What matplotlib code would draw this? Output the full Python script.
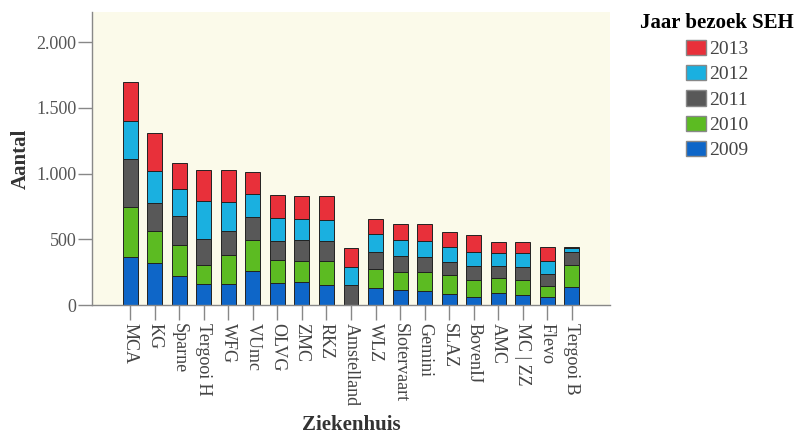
import matplotlib
matplotlib.use("Agg")
import matplotlib.pyplot as plt
import numpy as np
from matplotlib.patches import Patch

categories = ["MCA", "KG", "Sparne", "Tergooi H", "WFG", "VUmc", "OLVG", "ZMC", "RKZ",
              "Amstelland", "WLZ", "Slotervaart", "Gemini", "SLAZ", "BovenIJ", "AMC",
              "MC | ZZ", "Flevo", "Tergooi B"]

y2009 = [365, 320, 223, 162, 157, 259, 165, 173, 152, 0, 127, 114, 109, 84, 63, 89, 76, 63, 135]
y2010 = [379, 246, 231, 143, 221, 238, 180, 159, 183, 0, 145, 140, 145, 147, 127, 117, 112, 82, 170]
y2011 = [370, 211, 224, 195, 188, 171, 145, 165, 152, 152, 129, 119, 109, 94, 107, 91, 99, 94, 101]
y2012 = [289, 246, 203, 289, 218, 175, 170, 160, 160, 135, 140, 122, 127, 114, 109, 96, 106, 96, 27]
y2013 = [295, 287, 198, 239, 244, 167, 178, 170, 180, 150, 111, 122, 127, 117, 127, 89, 89, 109, 6]

years = ["2009", "2010", "2011", "2012", "2013"]
series = [y2009, y2010, y2011, y2012, y2013]
colors = ["#0E66C8", "#5CBB22", "#585858", "#1AB0E0", "#E8303A"]

plt.rcParams['font.family'] = ['Liberation Serif', 'DejaVu Serif']

fig = plt.figure(figsize=(7.95, 4.34), dpi=100)
ax = fig.add_axes([92/795, 1-305/434, (610-92)/795, (305-12)/434])
ax.set_facecolor("#FBFAEA")

x = np.arange(len(categories))
bottom = np.zeros(len(categories))
for yr, vals, c in zip(years, series, colors):
    v = np.array(vals, dtype=float)
    ax.bar(x, v, bottom=bottom, width=0.61, color=c, edgecolor="#222222", linewidth=0.7, label=yr)
    bottom += v

ax.set_xlim(-1.55, len(categories) - 1 + 1.55)
ax.set_ylim(0, 2230)
ax.set_yticks([0, 500, 1000, 1500, 2000])
ax.set_yticklabels(["0", "500", "1.000", "1.500", "2.000"], fontsize=13, color="#555555")
ax.set_xticks(x)
ax.set_xticklabels(categories, rotation=-90, fontsize=13, color="#444444")

for s in ["top", "right"]:
    ax.spines[s].set_visible(False)
for s in ["left", "bottom"]:
    ax.spines[s].set_color("#888888")
    ax.spines[s].set_linewidth(1.0)
ax.tick_params(axis="y", length=10, color="#888888", width=1.0, pad=1)
ax.tick_params(axis="x", length=11, color="#888888", width=1.0, pad=2)

ax.set_ylabel("Aantal", fontsize=15, color="#333333", labelpad=4, fontweight="bold")
ax.set_xlabel("Ziekenhuis", fontsize=15, color="#333333", labelpad=6, fontweight="bold")

handles = [Patch(facecolor=c, edgecolor="#888888", label=yr) for yr, c in zip(years, colors)][::-1]
leg = fig.legend(handles=handles, title="Jaar bezoek SEH", loc="upper center",
                 bbox_to_anchor=(717/795, 1 - 9/434), frameon=False, fontsize=14,
                 title_fontproperties={'weight': 'bold', 'size': 15},
                 handlelength=1.05, handleheight=0.85, handletextpad=0.12, labelspacing=0.35,
                 borderaxespad=0, borderpad=0.2)
for t in leg.get_texts():
    t.set_color("#444444")

fig.savefig("out.png", dpi=100)
